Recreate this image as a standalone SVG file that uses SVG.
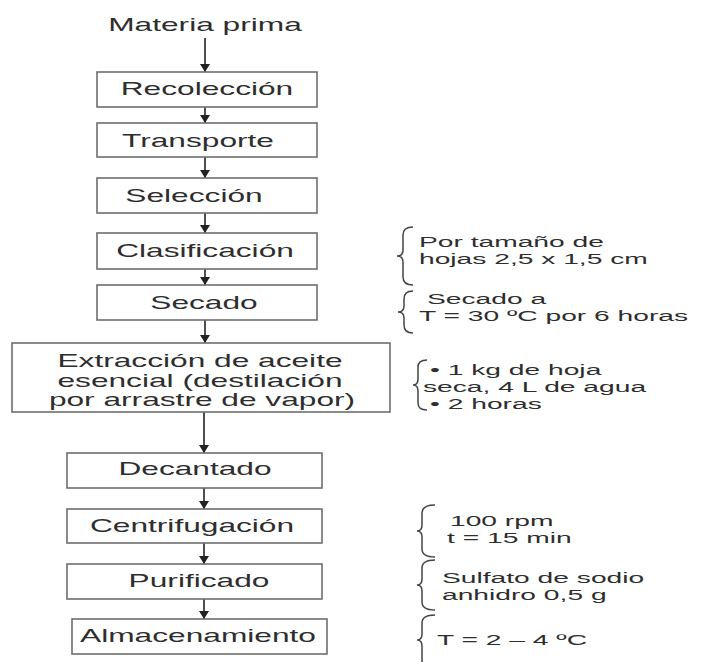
<svg xmlns="http://www.w3.org/2000/svg" width="701" height="662" viewBox="0 0 701 662">
<style>
.box{fill:#fff;stroke:#6e6e6e;stroke-width:1.6}
.t{font-family:"Liberation Sans",Arial,sans-serif;font-size:18px;fill:#2e2e2e;text-anchor:middle}
.a{font-family:"Liberation Sans",Arial,sans-serif;font-size:15px;fill:#2e2e2e;text-anchor:start}
.c{stroke:#222;stroke-width:1.6;fill:none}
.br{stroke:#444;stroke-width:1.5;fill:none}
</style>
<defs>
<marker id="ah" markerUnits="userSpaceOnUse" markerWidth="12" markerHeight="10" refX="8" refY="5" orient="auto">
<path d="M0,0 L8,5 L0,10 Z" fill="#222"/>
</marker>
</defs>
<rect width="701" height="662" fill="#fff"/>
<g id="connectors">
<line class="c" x1="205" y1="38" x2="205" y2="72" marker-end="url(#ah)"/>
<line class="c" x1="205" y1="107" x2="205" y2="123" marker-end="url(#ah)"/>
<line class="c" x1="205" y1="157" x2="205" y2="178" marker-end="url(#ah)"/>
<line class="c" x1="205" y1="213" x2="205" y2="233" marker-end="url(#ah)"/>
<line class="c" x1="205" y1="269" x2="205" y2="285" marker-end="url(#ah)"/>
<line class="c" x1="205" y1="320" x2="205" y2="343" marker-end="url(#ah)"/>
<line class="c" x1="204" y1="412" x2="204" y2="453" marker-end="url(#ah)"/>
<line class="c" x1="204" y1="488" x2="204" y2="509" marker-end="url(#ah)"/>
<line class="c" x1="204" y1="543" x2="204" y2="564" marker-end="url(#ah)"/>
<line class="c" x1="204" y1="599" x2="204" y2="619" marker-end="url(#ah)"/>
</g>
<g id="materia-prima"><text class="t" transform="translate(205,31) scale(1.76,1)">Materia prima</text></g>
<g id="recoleccion"><rect class="box" x="97" y="72" width="220" height="35"/><text class="t" transform="translate(207,95) scale(1.76,1)">Recolección</text></g>
<g id="transporte"><rect class="box" x="97" y="123" width="220" height="34"/><text class="t" transform="translate(198,147) scale(1.76,1)">Transporte</text></g>
<g id="seleccion"><rect class="box" x="97" y="178" width="220" height="35"/><text class="t" transform="translate(194,202) scale(1.76,1)">Selección</text></g>
<g id="clasificacion"><rect class="box" x="97" y="233" width="220" height="36"/><text class="t" transform="translate(205,257) scale(1.76,1)">Clasificación</text></g>
<g id="secado"><rect class="box" x="97" y="285" width="220" height="35"/><text class="t" transform="translate(204,309) scale(1.76,1)">Secado</text></g>
<g id="extraccion"><rect class="box" x="12" y="343" width="378" height="69"/>
<text class="t" transform="translate(200,367) scale(1.76,1)">Extracción de aceite</text>
<text class="t" transform="translate(200,387) scale(1.76,1)">esencial (destilación</text>
<text class="t" transform="translate(202,406) scale(1.76,1)">por arrastre de vapor)</text></g>
<g id="decantado"><rect class="box" x="67" y="453" width="255" height="35"/><text class="t" transform="translate(195,475) scale(1.76,1)">Decantado</text></g>
<g id="centrifugacion"><rect class="box" x="67" y="509" width="255" height="34"/><text class="t" transform="translate(192,532) scale(1.76,1)">Centrifugación</text></g>
<g id="purificado"><rect class="box" x="67" y="564" width="255" height="35"/><text class="t" transform="translate(199,587) scale(1.76,1)">Purificado</text></g>
<g id="almacenamiento"><rect class="box" x="72" y="619" width="255" height="35"/><text class="t" transform="translate(198,642) scale(1.76,1)">Almacenamiento</text></g>
<g id="nota-clasificacion">
<path class="br" d="M413,227 Q403,227 403,235 L403,250 Q403,256 397,256 Q403,256 403,262 L403,277 Q403,285 413,285"/>
<text class="a" transform="translate(419,247) scale(1.88,1)">Por tamaño de</text>
<text class="a" transform="translate(419,264) scale(1.88,1)">hojas 2,5 x 1,5 cm</text>
</g>
<g id="nota-secado">
<path class="br" d="M413,291 Q404,291 404,299 L404,306 Q404,312 398,312 Q404,312 404,318 L404,325 Q404,333 413,333"/>
<text class="a" transform="translate(427,304) scale(1.88,1)">Secado a</text>
<text class="a" transform="translate(419,321) scale(1.88,1)">T = 30 ºC por 6 horas</text>
</g>
<g id="nota-extraccion">
<path class="br" d="M427,360 Q418,360 418,367 L418,379 Q418,385 413,385 Q418,385 418,391 L418,403 Q418,410 427,410"/>
<text class="a" transform="translate(430,375) scale(1.88,1)">• 1 kg de hoja</text>
<text class="a" transform="translate(423,392) scale(1.88,1)">seca, 4 L de agua</text>
<text class="a" transform="translate(430,409) scale(1.88,1)">• 2 horas</text>
</g>
<g id="nota-centrifugacion">
<path class="br" d="M435,505 Q422,505 422,513 L422,525 Q422,531 417,531 Q422,531 422,537 L422,549 Q422,557 435,557"/>
<text class="a" transform="translate(450,526) scale(1.88,1)">100 rpm</text>
<text class="a" transform="translate(447,543) scale(1.88,1)">t = 15 min</text>
</g>
<g id="nota-purificado">
<path class="br" d="M435,560 Q422,560 422,568 L422,579 Q422,585 417,585 Q422,585 422,591 L422,602 Q422,610 435,610"/>
<text class="a" transform="translate(442,583) scale(1.88,1)">Sulfato de sodio</text>
<text class="a" transform="translate(442,600) scale(1.88,1)">anhidro 0,5 g</text>
</g>
<g id="nota-almacenamiento">
<path class="br" d="M435,615 Q422,615 422,623 L422,634 Q422,640 417,640 Q422,640 422,646 L422,660 Q422,668 435,668"/>
<text class="a" transform="translate(437,645) scale(1.88,1)">T = 2 – 4 ºC</text>
</g>
</svg>
